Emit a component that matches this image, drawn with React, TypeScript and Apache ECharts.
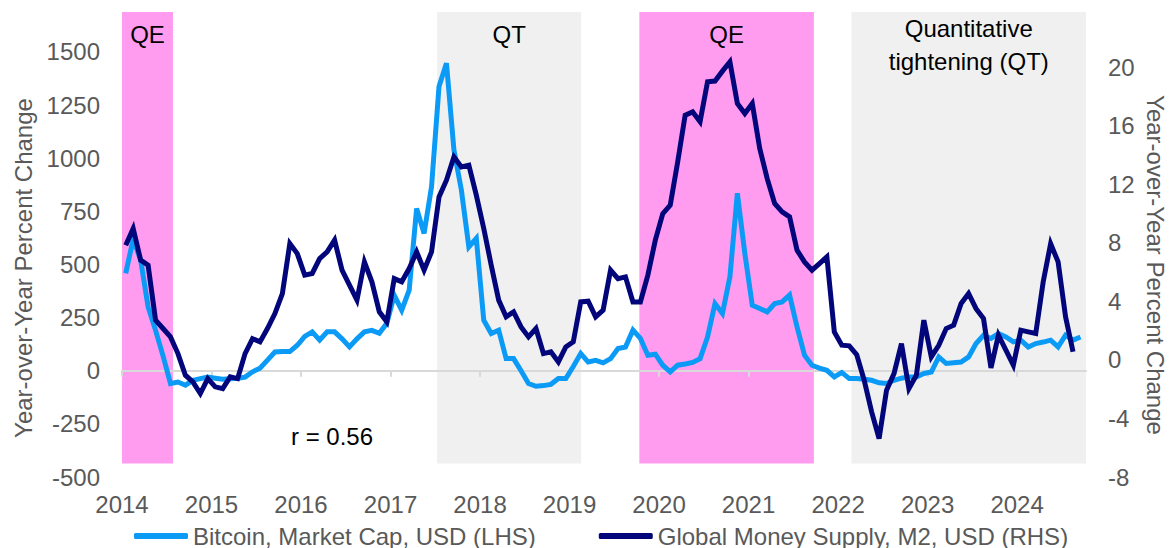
import React, { useEffect, useRef } from "react";
import * as echarts from "echarts";

// Monthly observations starting January 2014
const START_YEAR = 2014;

// Bitcoin market cap, YoY % change (left axis)
const btcMarketCap = [
  458, 620, 520, 300, 190, 70, -60, -53, -68, -45, -37, -30,
  -35, -40, -38, -35, -30, -5, 12, 50, 88, 90, 90, 120,
  162, 183, 144, 183, 183, 150, 112, 150, 183, 190, 176, 223,
  355, 285, 379, 764, 646, 866, 1337, 1447, 1039, 850, 583, 623,
  238, 175, 191, 57, 57, 0, -60, -73, -70, -64, -37, -37,
  20, 81, 41, 49, 37, 57, 105, 112, 191, 152, 73, 78,
  26, -5, 26, 32, 39, 57, 159, 316, 269, 442, 835, 552,
  308, 293, 277, 316, 324, 356, 206, 73, 26, 12, 2, -29,
  -8, -37, -37, -40, -45, -57, -60, -45, -35, -29, -29, -13,
  -6, 65, 34, 38, 41, 65, 128, 167, 152, 175, 159, 136,
  144, 112, 128, 135, 144, 112, 167, 144, 159,
];

// Global money supply M2 (USD), YoY % change (right axis)
const globalM2 = [
  7.83, 8.97, 6.81, 6.47, 2.71, 2.14, 1.57, 0.43, -1.05, -1.5, -2.3, -1.28,
  -1.84, -1.96, -1.16, -1.28, 0.43, 1.45, 1.23, 2.14, 3.16, 4.53, 7.94, 7.26,
  5.79, 5.9, 6.92, 7.38, 8.18, 6.13, 5.1, 4.08, 6.69, 5.33, 3.28, 2.6,
  5.55, 5.33, 6.24, 7.38, 6.13, 7.38, 11.13, 12.27, 13.87, 13.18, 13.3, 11.25,
  8.97, 6.47, 4.08, 2.94, 3.28, 2.25, 1.57, 2.14, 0.43, 0.55, -0.14, 0.89,
  1.23, 3.96, 4.01, 2.94, 3.39, 6.13, 5.55, 5.67, 3.96, 3.96, 5.79, 8.18,
  9.99, 10.57, 13.52, 16.71, 16.94, 16.26, 18.99, 19.04, 19.72, 20.36, 17.51, 16.82,
  17.51, 14.43, 12.38, 10.68, 10.11, 9.77, 7.49, 6.69, 6.13, 6.58, 7.04, 1.91,
  1.0, 0.96, 0.36, -1.39, -3.55, -5.37, -2.07, -0.94, 1.11, -1.96, -1.05, 2.71,
  0.2, 1.0, 2.14, 2.37, 3.85, 4.53, 3.5, 2.82, -0.55, 1.69, 0.66, -0.36,
  2.03, 1.91, 1.8, 5.33, 7.94, 6.69, 2.94, 0.55,
];

const yearTicks = [2014, 2015, 2016, 2017, 2018, 2019, 2020, 2021, 2022, 2023, 2024];
const leftTicks = [-500, -250, 0, 250, 500, 750, 1000, 1250, 1500];
const rightTicks = [-8, -4, 0, 4, 8, 12, 16, 20];

// Policy regimes (decimal years)
const periodLabels = ["QE", "QT", "QE", "Quantitative\ntightening (QT)"];
const periodStart = [2014.0, 2017.52, 2019.78, 2022.15];
const periodEnd = [2014.57, 2019.13, 2021.73, 2024.77];
const periodKind = ["QE", "QT", "QE", "QT"];

const FONT = "'Liberation Sans', Arial, Helvetica, sans-serif";
const GREY_TEXT = "#595959";
const BTC_COLOR = "#0B9BF7";
const M2_COLOR = "#03067A";
const QE_COLOR = "#FF9CF0";
const QT_COLOR = "#F0F0F0";

const X_MIN = 2014;
const X_MAX = 2024.77;
const LEFT_MIN = -500;
const LEFT_MAX = 1688;
const RIGHT_MIN = -8;
const RIGHT_MAX = 23.76;
const SHADE_BOTTOM = -437;

export default function App() {
  const ref = useRef<HTMLDivElement>(null);

  useEffect(() => {
    if (!ref.current) return;
    const chart = echarts.init(ref.current, null, { renderer: "svg" });

    const toX = (i: number) => START_YEAR + (i + 0.5) / 12;

    const areas = periodLabels.map((label, k) => {
      const multi = label.indexOf("\n") >= 0;
      return [
        {
          xAxis: periodStart[k],
          yAxis: SHADE_BOTTOM,
          itemStyle: { color: periodKind[k] === "QE" ? QE_COLOR : QT_COLOR },
          name: label,
          label: {
            show: true,
            position: "insideTop",
            distance: multi ? 0 : 5,
            lineHeight: multi ? 33 : 34,
            color: "#000",
            fontSize: 24,
            fontFamily: FONT,
            formatter: label,
          },
        },
        { xAxis: periodEnd[k], yAxis: LEFT_MAX },
      ];
    });

    chart.setOption({
      animation: false,
      grid: {
        left: 122,
        right: 85,
        top: 12,
        bottom: 71,
        containLabel: false,
        outerBoundsMode: "none",
      },
      xAxis: [
        {
          // year labels at the bottom of the plot
          type: "value",
          min: X_MIN,
          max: X_MAX,
          interval: 1,
          position: "bottom",
          axisLine: { show: false, onZero: false },
          axisTick: { show: false },
          splitLine: { show: false },
          axisLabel: {
            customValues: yearTicks,
            margin: 15,
            color: GREY_TEXT,
            fontSize: 24,
            fontFamily: FONT,
            formatter: (v: number) => (Number.isInteger(v) ? String(v) : ""),
          },
        },
        {
          // zero line with year ticks
          type: "value",
          min: X_MIN,
          max: X_MAX,
          interval: 1,
          position: "top",
          z: 1,
          axisLine: {
            show: true,
            onZero: true,
            onZeroAxisIndex: 0,
            lineStyle: { color: "#D9D9D9", width: 2 },
          },
          axisTick: {
            show: true,
            inside: true,
            length: 6,
            customValues: yearTicks,
            lineStyle: { color: "#D9D9D9", width: 2 },
          },
          axisLabel: { show: false },
          splitLine: { show: false },
        },
      ],
      yAxis: [
        {
          type: "value",
          min: LEFT_MIN,
          max: LEFT_MAX,
          interval: 250,
          position: "left",
          axisLine: { show: false },
          axisTick: { show: false },
          splitLine: { show: false },
          axisLabel: {
            customValues: leftTicks,
            margin: 22,
            color: GREY_TEXT,
            fontSize: 24,
            fontFamily: FONT,
            formatter: (v: number) => (v % 250 === 0 && v <= 1500 ? String(v) : ""),
          },
        },
        {
          type: "value",
          min: RIGHT_MIN,
          max: RIGHT_MAX,
          interval: 4,
          position: "right",
          axisLine: { show: false },
          axisTick: { show: false },
          splitLine: { show: false },
          axisLabel: {
            customValues: rightTicks,
            margin: 22,
            color: GREY_TEXT,
            fontSize: 24,
            fontFamily: FONT,
            formatter: (v: number) => (v % 4 === 0 && v <= 20 ? String(v) : ""),
          },
        },
      ],
      legend: {
        left: 129,
        top: 519,
        itemWidth: 54,
        itemHeight: 6,
        itemGap: 63,
        icon: "roundRect",
        textStyle: { color: GREY_TEXT, fontSize: 24, fontFamily: FONT },
        data: ["Bitcoin, Market Cap, USD (LHS)", "Global Money Supply, M2, USD (RHS)"],
      },
      graphic: [
        {
          type: "text",
          x: 23,
          y: 268,
          rotation: Math.PI / 2,
          style: {
            text: "Year-over-Year Percent Change",
            fill: GREY_TEXT,
            font: `24px ${FONT}`,
            textAlign: "center",
            textVerticalAlign: "middle",
          },
        },
        {
          type: "text",
          x: 1155,
          y: 265,
          rotation: -Math.PI / 2,
          style: {
            text: "Year-over-Year Percent Change",
            fill: GREY_TEXT,
            font: `24px ${FONT}`,
            textAlign: "center",
            textVerticalAlign: "middle",
          },
        },
        {
          type: "text",
          x: 332,
          y: 436,
          style: {
            text: "r = 0.56",
            fill: "#000",
            font: `24px ${FONT}`,
            textAlign: "center",
            textVerticalAlign: "middle",
          },
        },
      ],
      series: [
        {
          type: "line",
          data: [],
          yAxisIndex: 0,
          silent: true,
          markArea: { silent: true, z: 0, data: areas },
        },
        {
          name: "Bitcoin, Market Cap, USD (LHS)",
          type: "line",
          yAxisIndex: 0,
          showSymbol: false,
          z: 2,
          color: BTC_COLOR,
          lineStyle: { color: BTC_COLOR, width: 5, join: "miter" },
          data: btcMarketCap.map((v, i) => [toX(i), v]),
        },
        {
          name: "Global Money Supply, M2, USD (RHS)",
          type: "line",
          yAxisIndex: 1,
          showSymbol: false,
          z: 3,
          color: M2_COLOR,
          lineStyle: { color: M2_COLOR, width: 5, join: "miter" },
          data: globalM2.map((v, i) => [toX(i), v]),
        },
      ],
    });

    return () => chart.dispose();
  }, []);

  return (
    <div
      ref={ref}
      style={{ position: "fixed", left: 0, top: 0, width: 1171, height: 548, background: "#fff" }}
    />
  );
}
